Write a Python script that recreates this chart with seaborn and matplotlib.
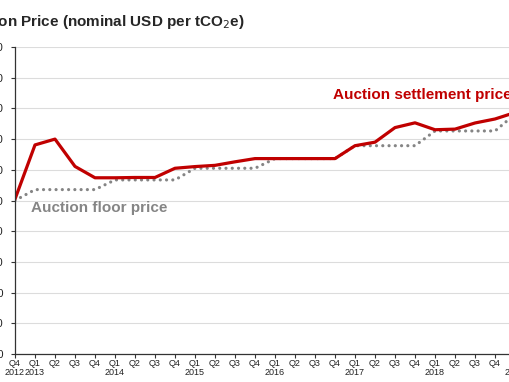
import numpy as np
import matplotlib.pyplot as plt
import seaborn as sns
import pandas as pd

# quarterly auction results, Q4 2012 to Q1 2019
quarters = ["Q4", "Q1", "Q2", "Q3", "Q4", "Q1", "Q2", "Q3", "Q4", "Q1", "Q2", "Q3", "Q4",
            "Q1", "Q2", "Q3", "Q4", "Q1", "Q2", "Q3", "Q4", "Q1", "Q2", "Q3", "Q4", "Q1"]
years = ["2012", "2013", "", "", "", "2014", "", "", "", "2015", "", "", "",
         "2016", "", "", "", "2017", "", "", "", "2018", "", "", "", "2019"]
settlement = [10.09, 13.62, 14.00, 12.22, 11.48, 11.48, 11.50, 11.50, 12.10, 12.21, 12.29, 12.52, 12.73,
              12.73, 12.73, 12.73, 12.73, 13.57, 13.80, 14.75, 15.06, 14.61, 14.65, 15.05, 15.31, 15.73]
floor = [10.00, 10.71, 10.71, 10.71, 10.71, 11.34, 11.34, 11.34, 11.34, 12.10, 12.10, 12.10, 12.10,
         12.73, 12.73, 12.73, 12.73, 13.57, 13.57, 13.57, 13.57, 14.53, 14.53, 14.53, 14.53, 15.62]

df = pd.DataFrame({"idx": np.arange(len(quarters)), "settlement": settlement, "floor": floor})

sns.set_style("white")
plt.rcParams["font.family"] = ["Liberation Sans", "DejaVu Sans"]

fig = plt.figure(figsize=(5.1, 3.82), dpi=100)
ax = fig.add_axes([15 / 510, 28 / 382, 500 / 510, 307 / 382])

sns.lineplot(data=df, x="idx", y="floor", ax=ax, color="#858585", linewidth=2.3,
             linestyle=(0, (0.01, 1.95)), dash_capstyle="round")
sns.lineplot(data=df, x="idx", y="settlement", ax=ax, color="#c00000", linewidth=2.3)

ax.set_xlim(0, 25)
ax.set_ylim(0, 20)
ax.set_yticks(np.arange(0, 21, 2))
ax.set_yticklabels(["$%.2f" % v for v in np.arange(0, 21, 2)], fontsize=8, color="#222222")
ax.yaxis.grid(True, color="#dcdcdc", linewidth=0.8)
ax.set_axisbelow(True)

ax.set_xticks(df["idx"])
ax.set_xticklabels([q + "\n" + y for q, y in zip(quarters, years)], fontsize=6.5, color="#222222",
                   linespacing=0.95)
ax.tick_params(axis="x", direction="out", length=3, width=0.8, color="#333333", pad=0.5, bottom=True)
ax.tick_params(axis="y", direction="out", length=3, width=0.8, color="#333333", pad=5, left=True)

for side in ["top", "right"]:
    ax.spines[side].set_visible(False)
for side in ["left", "bottom"]:
    ax.spines[side].set_color("#333333")
    ax.spines[side].set_linewidth(0.9)

ax.set_xlabel("")
ax.set_ylabel("")

ax.text(15.9, 16.9, "Auction settlement price", color="#c00000", fontsize=11,
        fontweight="bold", va="center", ha="left")
ax.text(0.8, 9.5, "Auction floor price", color="#858585", fontsize=11,
        fontweight="bold", va="center", ha="left")

fig.text(245 / 510, 1 - 22 / 382, "Carbon Price (nominal USD per tCO$_2$e)", fontsize=11,
         fontweight="bold", ha="right", va="center")

plt.savefig("out.png", dpi=100)
